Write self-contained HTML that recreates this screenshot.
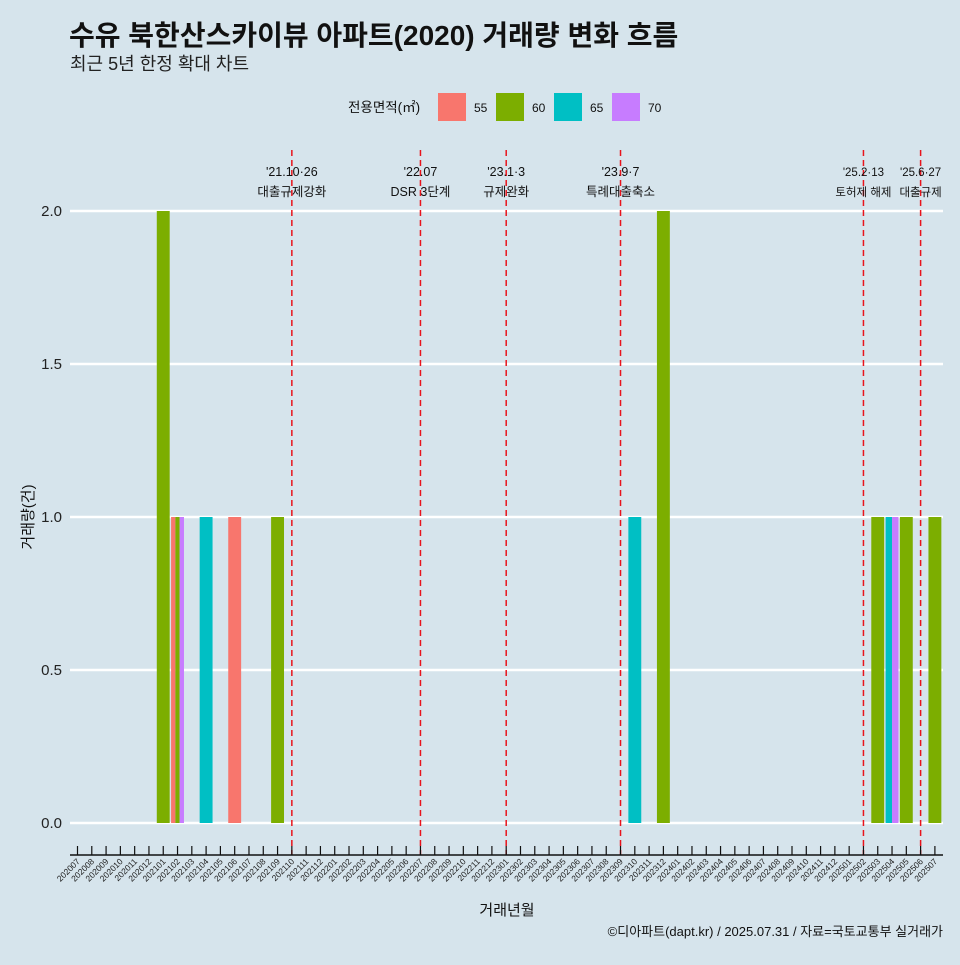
<!DOCTYPE html>
<html><head><meta charset="utf-8">
<style>
html,body{margin:0;padding:0;background:#d6e4ec;}
body{width:960px;height:960px;overflow:hidden;font-family:"Liberation Sans","Noto Sans CJK KR",sans-serif;}
svg text{font-family:"Liberation Sans","Noto Sans CJK KR",sans-serif;}
</style></head>
<body>
<svg id="chart" width="960" height="960" xmlns="http://www.w3.org/2000/svg">
<rect width="960" height="960" fill="#d6e4ec"/>
<text x="69" y="45" font-size="28" font-weight="bold" fill="#111">수유 북한산스카이뷰 아파트(2020) 거래량 변화 흐름</text>
<text x="70" y="70" font-size="18" fill="#222">최근 5년 한정 확대 차트</text>
<g id="legend">
<text x="348" y="112" font-size="13.5" fill="#111">전용면적(㎡)</text>
</g>
<g id="grid"></g>
<g id="vlines"></g>
<g id="bars"></g>
<g id="axes"></g>
<text x="507" y="915" font-size="15" text-anchor="middle" fill="#111">거래년월</text>
<text transform="translate(33,517) rotate(-90)" font-size="15" text-anchor="middle" fill="#111">거래량(건)</text>
<text x="943" y="936" font-size="13" text-anchor="end" fill="#111">©디아파트(dapt.kr) / 2025.07.31 / 자료=국토교통부 실거래가</text>
</svg>
<script>
const months = [];
for (let y = 2020; y <= 2025; y++) for (let m = 1; m <= 12; m++) {
  const k = y * 100 + m;
  if (k >= 202007 && k <= 202507) months.push(String(k));
}
const areas = ['55', '60', '65', '70'];
const colors = ['#F8766D', '#7CAE00', '#00BFC4', '#C77CFF'];
const barMonths = ['202101', '202102', '202102', '202102', '202104', '202106', '202109', '202310', '202312', '202503', '202504', '202504', '202505', '202507'];
const barAreas = ['60', '55', '60', '70', '65', '55', '60', '65', '60', '60', '65', '70', '60', '60'];
const barValues = [2, 1, 1, 1, 1, 1, 1, 1, 2, 1, 1, 1, 1, 1];
const yTicks = [0, 0.5, 1, 1.5, 2];
const yTickLabels = ['0.0', '0.5', '1.0', '1.5', '2.0'];
const eventMonths = ['202110', '202207', '202301', '202309', '202502', '202506'];
const eventDates = ["'21.10·26", "'22.07", "'23.1·3", "'23.9·7", "'25.2·13", "'25.6·27"];
const eventTexts = ['대출규제강화', 'DSR 3단계', '규제완화', '특례대출축소', '토허제 해제', '대출규제'];

const NS = 'http://www.w3.org/2000/svg';
const x = i => 77.5 + i * 14.29;
const xm = mo => x(months.indexOf(mo));
const y = v => 823 - v * 306;
function mk(tag, attrs, parent, txt) {
  const e = document.createElementNS(NS, tag);
  for (const k in attrs) e.setAttribute(k, attrs[k]);
  if (txt !== undefined) e.textContent = txt;
  parent.appendChild(e);
  return e;
}
const grid = document.getElementById('grid');
const vl = document.getElementById('vlines');
const bars = document.getElementById('bars');
const axes = document.getElementById('axes');
const legend = document.getElementById('legend');

areas.forEach((a, i) => {
  const r = mk('rect', {x: 438 + i * 58, y: 93, width: 28, height: 28, fill: colors[i]}, legend);
  
  
  const t = mk('text', {x: 474 + i * 58, y: 112, 'font-size': 12, fill: '#111'}, legend, a);
  
  
});

yTicks.forEach((v, i) => {
  const l = mk('line', {x1: 70, x2: 943, y1: y(v), y2: y(v), stroke: '#fff', 'stroke-width': 2.5}, grid);
  
  
  const t = mk('text', {x: 62, y: y(v) + 5, 'font-size': 15, 'text-anchor': 'end', fill: '#222'}, axes, yTickLabels[i]);
  
  
});

eventMonths.forEach((mo, i) => {
  const cx = xm(mo);
  const l = mk('line', {x1: cx, x2: cx, y1: 150, y2: 855, stroke: '#e8141c', 'stroke-width': 1.5, 'stroke-dasharray': '6,4'}, vl);
  
  
  const fs = (i >= 4) ? 11.5 : 12.5;
  const t1 = mk('text', {x: cx, y: 176, 'font-size': fs, 'text-anchor': 'middle', fill: '#111'}, vl, eventDates[i]);
  
  
  const t2 = mk('text', {x: cx, y: 196, 'font-size': fs, 'text-anchor': 'middle', fill: '#111'}, vl, eventTexts[i]);
  
  
});

const groupW = 12.9;
const byMonth = {};
barMonths.forEach((mo, i) => { (byMonth[mo] = byMonth[mo] || []).push(i); });
Object.keys(byMonth).forEach(mo => {
  const idx = byMonth[mo].slice().sort((a, b) => areas.indexOf(barAreas[a]) - areas.indexOf(barAreas[b]));
  const w = groupW / idx.length;
  idx.forEach((bi, j) => {
    const x0 = xm(mo) - groupW / 2 + j * w;
    const r = mk('rect', {x: x0, y: y(barValues[bi]), width: w, height: y(0) - y(barValues[bi]), fill: colors[areas.indexOf(barAreas[bi])]}, bars);
    
    
  });
});

const ax = mk('line', {x1: 70, x2: 943, y1: 855, y2: 855, stroke: '#111', 'stroke-width': 1.5}, axes);


months.forEach((mo, i) => {
  const cx = x(i);
  const tk = mk('line', {x1: cx, x2: cx, y1: 846, y2: 855, stroke: '#111', 'stroke-width': 1.2}, axes);
  
  
  const t = mk('text', {x: cx + 3, y: 862, 'font-size': 8.5, 'text-anchor': 'end', fill: '#222', transform: `rotate(-45 ${cx + 3} 862)`}, axes, mo);
  
  
});
</script>
</body></html>
